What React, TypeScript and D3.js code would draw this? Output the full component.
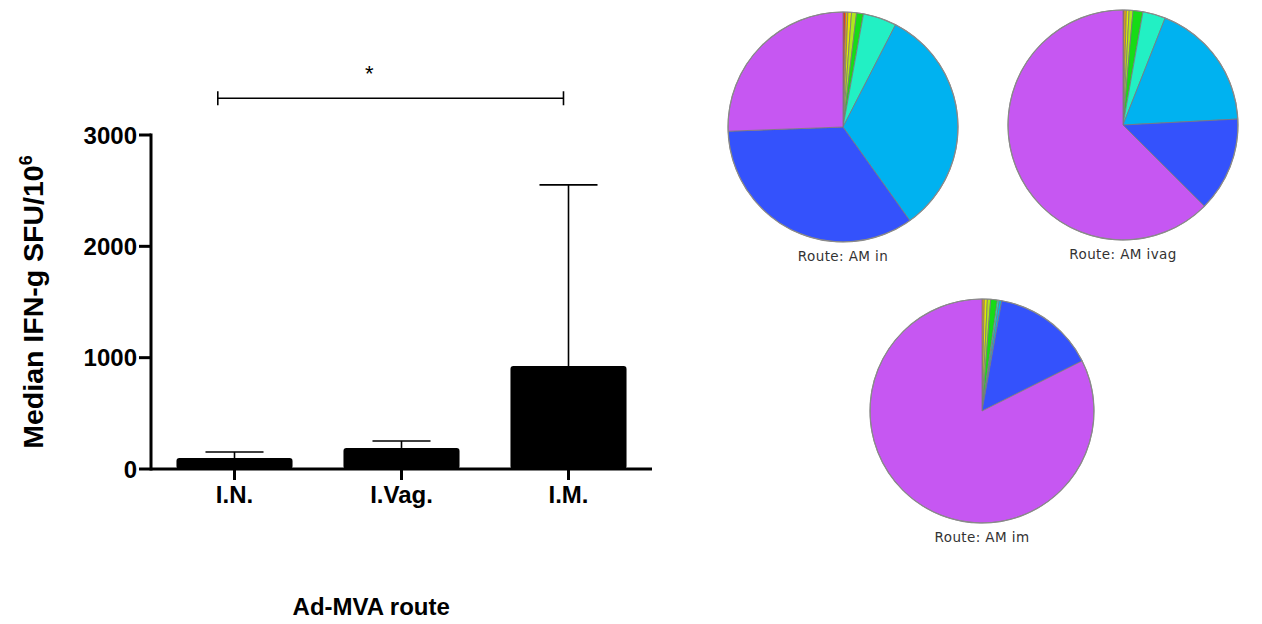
import React from 'react';
import * as d3 from 'd3';

// ---- Bar chart data ----
const routes = ['I.N.', 'I.Vag.', 'I.M.'];
const medians = [99, 189, 925];
const errorTops = [153, 252, 2552];
const yTicks = [0, 1000, 2000, 3000];
const sigValue = 3330;
const sigLabel = '*';

// ---- Pie chart data (percent per slice, clockwise from 12 o'clock) ----
const sliceColors = ['#e8361a', '#f5a300', '#e4e800', '#aee81c', '#16dc16', '#22f0c4', '#00b2f0', '#3452fc', '#c657f2'];
const pieNames = ['Route: AM in', 'Route: AM ivag', 'Route: AM im'];
const pieAmIn = [0.36, 0.33, 0.5, 0.7, 0.97, 4.7, 32.6, 34.3, 25.6];
const pieAmIvag = [0.14, 0.33, 0.39, 0.53, 1.39, 3.19, 18.2, 13.3, 62.5];
const pieAmIm = [0, 0.33, 0.44, 0.47, 0.97, 0.25, 0.36, 14.8, 82.4];

const FONT = '"Liberation Sans", Arial, Helvetica, sans-serif';

function PieBlock({ values, name, cx, cy, r }: { values: number[]; name: string; cx: number; cy: number; r: number }) {
  const pie = d3.pie<number>().sort(null).value((d) => d);
  const arcs = pie(values);
  const arc = d3.arc<d3.PieArcDatum<number>>().innerRadius(0).outerRadius(r);
  return (
    <g transform={`translate(${cx},${cy})`}>
      {arcs.map((a, i) => (
        <path key={i} d={arc(a) || ''} fill={sliceColors[i]} stroke="#7a7a7a" strokeWidth={0.8} strokeLinejoin="round" />
      ))}
      <circle r={r} fill="none" stroke="#8a8a8a" strokeWidth={1.2} />
      <text
        x={0}
        y={r + 19}
        textAnchor="middle"
        fontFamily='"DejaVu Sans", Verdana, sans-serif'
        fontSize={13.5}
        letterSpacing={0.4}
        fill="#333"
      >
        {name}
      </text>
    </g>
  );
}

export default function App() {
  const x = d3.scaleBand<string>().domain(routes).range([151, 652]).padding(0);
  const y = d3.scaleLinear().domain([0, 3000]).range([469, 135]);
  const bw = x.bandwidth();
  const barW = bw * 0.695;
  const center = (r: string) => (x(r) as number) + bw / 2;
  const x0 = x.range()[0];
  const x1 = x.range()[1];

  const sigL = center(routes[0]) - bw * 0.1;
  const sigR = center(routes[2]) - bw * 0.03;
  const starX = sigL + (sigR - sigL) * 0.438;

  const pieData = [pieAmIn, pieAmIvag, pieAmIm];
  const pieLayout = [
    { cx: 843, cy: 127, r: 115 },
    { cx: 1123, cy: 125, r: 115 },
    { cx: 982, cy: 411, r: 112 },
  ];

  return (
    <svg width={1262} height={624} style={{ position: 'absolute', left: 0, top: 0, background: '#fff' }}>
      {/* Bars */}
      {routes.map((r, i) => (
        <rect
          key={r}
          x={center(r) - barW / 2}
          y={y(medians[i])}
          width={barW}
          height={y(0) - y(medians[i])}
          rx={3}
          fill="#000"
        />
      ))}
      {/* Error bars */}
      {routes.map((r, i) => (
        <g key={'e' + r} stroke="#000" strokeWidth={1.6}>
          <line x1={center(r)} x2={center(r)} y1={y(medians[i])} y2={y(errorTops[i])} />
          <line x1={center(r) - barW / 4} x2={center(r) + barW / 4} y1={y(errorTops[i])} y2={y(errorTops[i])} />
        </g>
      ))}
      {/* Axes */}
      <line x1={x0} x2={x0} y1={y(3000) - 1.5} y2={y(0) + 1.5} stroke="#000" strokeWidth={3} />
      <line x1={x0} x2={x1} y1={y(0)} y2={y(0)} stroke="#000" strokeWidth={3} />
      {yTicks.map((t) => (
        <g key={t}>
          <line x1={x0 - 12} x2={x0} y1={y(t)} y2={y(t)} stroke="#000" strokeWidth={3} />
          <text
            x={x0 - 14}
            y={y(t)}
            dy="0.36em"
            textAnchor="end"
            fontFamily={FONT}
            fontWeight="bold"
            fontSize={24}
            fill="#000"
          >
            {t}
          </text>
        </g>
      ))}
      {routes.map((r) => (
        <g key={'t' + r}>
          <line x1={center(r)} x2={center(r)} y1={y(0)} y2={y(0) + 11} stroke="#000" strokeWidth={3} />
          <text x={center(r)} y={503} textAnchor="middle" fontFamily={FONT} fontWeight="bold" fontSize={24} fill="#000">
            {r}
          </text>
        </g>
      ))}
      {/* Axis titles */}
      <text
        transform={`translate(43,302) rotate(-90)`}
        textAnchor="middle"
        fontFamily={FONT}
        fontWeight="bold"
        fontSize={28.5}
        fill="#000"
      >
        Median IFN-g SFU/10
        <tspan dy={-11} fontSize={18}>6</tspan>
      </text>
      <text x={starX + 2} y={615} textAnchor="middle" fontFamily={FONT} fontWeight="bold" fontSize={24} fill="#000">
        Ad-MVA route
      </text>
      {/* Significance bracket */}
      <g stroke="#000" strokeWidth={1.6}>
        <line x1={sigL} x2={sigR} y1={y(sigValue)} y2={y(sigValue)} />
        <line x1={sigL} x2={sigL} y1={y(sigValue) - 7} y2={y(sigValue) + 7} />
        <line x1={sigR} x2={sigR} y1={y(sigValue) - 7} y2={y(sigValue) + 7} />
      </g>
      <text x={starX} y={81} textAnchor="middle" fontFamily={FONT} fontSize={22} fill="#000">
        {sigLabel}
      </text>
      {/* Pies */}
      {pieData.map((vals, i) => (
        <PieBlock key={i} values={vals} name={pieNames[i]} {...pieLayout[i]} />
      ))}
    </svg>
  );
}
